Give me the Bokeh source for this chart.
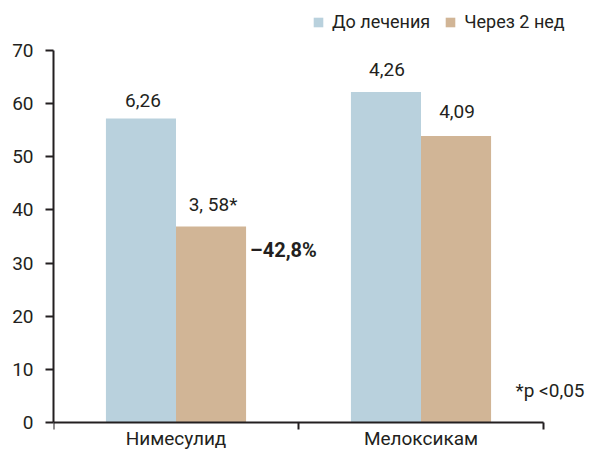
from bokeh.plotting import figure
from bokeh.models import (ColumnDataSource, Range1d, FixedTicker, LabelSet, Label,
                          Legend, LegendItem)
from bokeh.core.properties import value
from bokeh.transform import dodge
from bokeh.embed import file_html
from bokeh.resources import INLINE

# --- data -------------------------------------------------------------
categories = ["Нимесулид", "Мелоксикам"]
series_names = ["До лечения", "Через 2 нед"]
before = [57.2, 62.2]          # bar heights, before treatment
after = [36.9, 53.9]           # bar heights, after 2 weeks
before_labels = ["6,26", "4,26"]
after_labels = ["3, 58*", "4,09"]
change_label = "–42,8%"
note_label = "*p <0,05"
y_ticks = [0, 10, 20, 30, 40, 50, 60, 70]

# --- style / layout ---------------------------------------------------
FONT = "Roboto"
FS = "19px"
INK = "#231f20"
BLUE = "#b9d1dd"
TAN = "#d1b596"

W, H = 596, 450
LEFT = 53              # y axis position
FRAME_TOP = 12
ZERO_PX = 422          # pixel row of y = 0
PX_PER_CAT = 245.0     # horizontal pixels per category slot
PX_PER_UNIT = 5.314    # vertical pixels per y unit
BAR_W = 0.286
OFF = 0.143

cat_x = [i + 0.5 for i in range(len(categories))]
cat_edges = list(range(len(categories) + 1))

p = figure(width=W, height=H,
           x_range=Range1d(0, (W - LEFT) / PX_PER_CAT),
           y_range=Range1d(-(H - ZERO_PX) / PX_PER_UNIT, (ZERO_PX - FRAME_TOP) / PX_PER_UNIT),
           x_axis_location="above",
           output_backend="svg", toolbar_location=None,
           min_border_left=LEFT, min_border_right=0,
           min_border_top=FRAME_TOP, min_border_bottom=0)
p.outline_line_color = None
p.background_fill_color = "white"
p.border_fill_color = "white"
p.xgrid.visible = False
p.ygrid.visible = False

src = ColumnDataSource(dict(
    x=cat_x, cat=categories, before=before, after=after,
    bl=before_labels, al=after_labels,
    bl_off=[11.6, 15.7], al_off=[15.3, 18.4],
    bl_dx=[2, 1], al_dx=[2, 1],
))

r_before = p.vbar(x=dodge("x", -OFF, range=p.x_range), top="before", width=BAR_W,
                  source=src, fill_color=BLUE, line_color=None)
r_after = p.vbar(x=dodge("x", OFF, range=p.x_range), top="after", width=BAR_W,
                 source=src, fill_color=TAN, line_color=None)

# --- axes -------------------------------------------------------------
ya = p.yaxis[0]
ya.bounds = (0, 70)
ya.ticker = FixedTicker(ticks=y_ticks)
ya.minor_tick_line_color = None
ya.major_tick_in = 0
ya.major_tick_out = 8
ya.major_label_standoff = 12
ya.axis_line_color = INK
ya.axis_line_width = 2
ya.major_tick_line_color = INK
ya.major_tick_line_width = 2
ya.major_label_text_font = FONT
ya.major_label_text_font_size = FS
ya.major_label_text_color = INK

# category axis pinned at y = 0, ticks at the slot edges pointing down
xa = p.xaxis[0]
xa.fixed_location = 0
xa.bounds = (0, len(categories))
xa.ticker = FixedTicker(ticks=cat_edges)
xa.minor_tick_line_color = None
xa.major_tick_in = 7
xa.major_tick_out = 0
xa.major_tick_line_color = INK
xa.major_tick_line_width = 2
xa.axis_line_color = INK
xa.axis_line_width = 2
xa.major_label_standoff = 0
xa.major_label_text_font_size = "0px"
xa.major_label_overrides = {i: "" for i in cat_edges}

common = dict(text_font=value(FONT), text_font_size=value(FS), text_color=INK,
              text_baseline="alphabetic", text_align="center")

# category names under the axis
p.add_layout(LabelSet(x="x", y=0, text="cat", y_offset=-22.5, source=src, **common))

# value labels above bars
p.add_layout(LabelSet(x=dodge("x", -OFF, range=p.x_range), y="before", text="bl",
                      x_offset="bl_dx", y_offset="bl_off", source=src, **common))
p.add_layout(LabelSet(x=dodge("x", OFF, range=p.x_range), y="after", text="al",
                      x_offset="al_dx", y_offset="al_off", source=src, **common))

# relative change next to the first "after" bar
p.add_layout(Label(x=cat_x[0] + OFF + BAR_W / 2, y=after[0], text=change_label,
                   x_offset=4, y_offset=-24, text_font=FONT, text_font_size="20px",
                   text_font_style="bold", text_color=INK,
                   text_baseline="alphabetic", text_align="left"))

# significance note
p.add_layout(Label(x=(515 - LEFT) / PX_PER_CAT, y=(ZERO_PX - 390) / PX_PER_UNIT,
                   text=note_label, text_font=FONT, text_font_size=FS, text_color=INK,
                   text_baseline="alphabetic", text_align="left"))

# --- legend -----------------------------------------------------------
legend = Legend(items=[LegendItem(label=series_names[0], renderers=[r_before]),
                       LegendItem(label=series_names[1], renderers=[r_after])],
                orientation="horizontal", location=(312 - LEFT, H - 32),
                padding=0, margin=0, spacing=14,
                glyph_width=12, glyph_height=12, label_standoff=8,
                border_line_color=None, background_fill_alpha=0,
                label_text_font=FONT, label_text_font_size="18px",
                label_text_color=INK)
p.add_layout(legend)

open("out.html", "w").write(file_html(p, INLINE))
